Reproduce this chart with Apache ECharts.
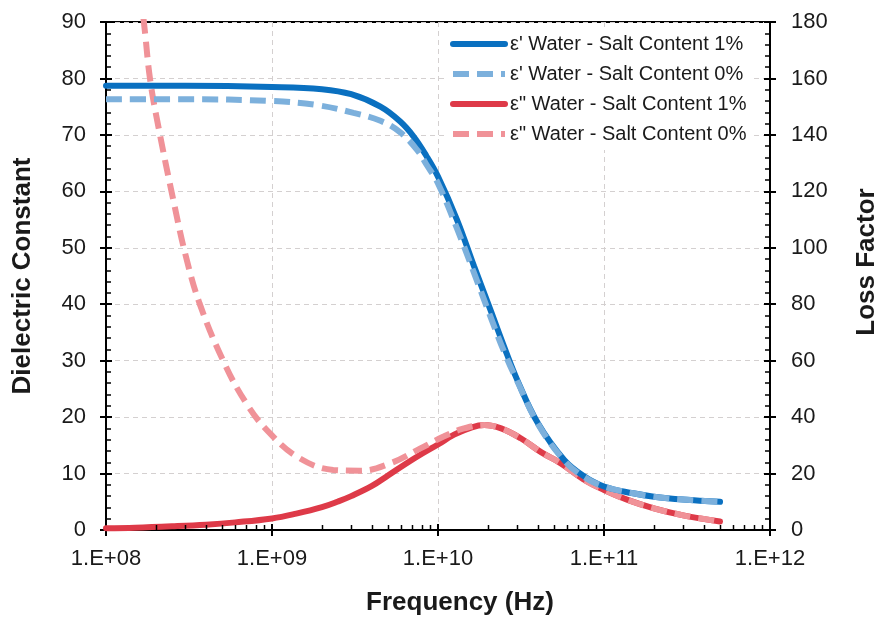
<!DOCTYPE html>
<html><head><meta charset="utf-8">
<script src="https://cdn.jsdelivr.net/npm/echarts@6/dist/echarts.min.js"></script>
<style>html,body{margin:0;padding:0;background:#fff}#c{width:877px;height:617px}</style>
</head><body><div id="c"></div>
<script>
// ---- data (frequency in Hz, value) ----
const seriesNames = [
  "ε' Water - Salt Content 1%",
  "ε' Water - Salt Content 0%",
  "ε\" Water - Salt Content 1%",
  "ε\" Water - Salt Content 0%"
];
// dielectric constant (left axis)
const epsRealSalt1 = [
  [1e8,78.7],[3e8,78.7],[1e9,78.5],[2e9,78.1],[3e9,77.2],[4.5e9,75.0],[5.9e9,72.4],[7.13e9,69.7],
  [8.5e9,66.3],[1e10,62.6],[1.3e10,55.0],[1.65e10,46.7],[2.07e10,39.0],[2.5e10,32.5],[3e10,26.6],
  [4e10,18.9],[5.76e10,12.4],[7.5e10,9.6],[1e11,7.7],[1.5e11,6.5],[2e11,5.9],[3e11,5.4],[5e11,5.0]
];
const epsRealSalt0 = [
  [1e8,76.3],[3e8,76.3],[1e9,76.0],[1.85e9,75.3],[3.1e9,73.9],[4.5e9,72.5],[5.9e9,70.5],[7.5e9,67.3],
  [8.5e9,64.8],[1e10,61.4],[1.31e10,53.2],[1.65e10,45.5],[2.07e10,37.8],[2.5e10,31.6],[3e10,26.4],
  [4e10,18.8],[5.76e10,12.3],[7.5e10,9.5],[1e11,7.7],[1.5e11,6.5],[2e11,5.9],[3e11,5.4],[5e11,5.0]
];
// loss factor (right axis)
const epsImagSalt1 = [
  [1e8,0.6],[1.5e8,0.8],[2.5e8,1.3],[4e8,1.9],[6e8,2.7],[1e9,4.1],[1.4e9,5.8],[2e9,8.1],[2.5e9,10.1],
  [3e9,12.0],[4e9,15.6],[5e9,19.3],[6.3e9,23.2],[8e9,27.0],[1e10,30.3],[1.25e10,33.8],[1.6e10,36.4],
  [1.9e10,37.2],[2.4e10,36.0],[3.15e10,32.5],[4.2e10,27.5],[5.5e10,23.6],[7.5e10,18.0],[1e11,14.2],
  [1.4e11,10.6],[2e11,7.7],[3e11,5.2],[5e11,3.0]
];
const epsImagSalt0 = [
  [1.62e8,190],[1.72e8,176],[1.84e8,160],[2.04e8,144.7],[2.58e8,115.2],[3.03e8,96.9],[3.66e8,80.3],
  [5.06e8,60.2],[7e8,44.9],[9.7e8,34.3],[1.47e9,25.4],[2.34e9,21.3],[3.4e9,21.0],[5.15e9,23.6],
  [7.83e9,28.9],[1.08e10,33.1],[1.4e10,35.8],[1.9e10,37.2],[2.4e10,36.0],[3.15e10,32.5],[4.2e10,27.5],
  [5.5e10,23.6],[7.5e10,18.0],[1e11,14.2],[1.4e11,10.6],[2e11,7.7],[3e11,5.2],[5e11,3.0]
];
const xTickLabels = {1e8:'1.E+08',1e9:'1.E+09',1e10:'1.E+10',1e11:'1.E+11',1e12:'1.E+12'};

// ---- styling ----
const FONT = 'Liberation Sans, Arial, sans-serif';
const TXT = '#1a1a1a';
const C_BLUE = '#0a70c0', C_BLUE_L = '#7cb0dc', C_RED = '#de3a48', C_RED_L = '#f09298';
const LW = 6;
const DASH = [16, 8];
const gridLine = {show:true, lineStyle:{color:'#d4d0d0', type:[5,4], width:1}};

const chart = echarts.init(document.getElementById('c'), null, {renderer:'canvas'});
const xBase = {type:'log', logBase:10, min:1e8, max:1e12, gridIndex:0};
const yL = {type:'value', min:0, max:90, interval:10};
const yR = {type:'value', min:0, max:180, interval:20};
const axisLine = {show:true, lineStyle:{color:'#000', width:2}};

const option = {
  backgroundColor:'#fff',
  animation:false,
  textStyle:{fontFamily:FONT},
  grid:{left:106, right:107, top:22, bottom:87, show:true, borderColor:'#000', borderWidth:2,
        containLabel:false, outerBoundsMode:'none'},
  legend:{
    data:seriesNames, orient:'vertical', left:445, top:30,
    itemWidth:52, itemHeight:20, itemGap:10, padding:[4,6,6,5],
    backgroundColor:'#fff',
    itemStyle:{opacity:0},
    lineStyle:{width:6},
    textStyle:{fontFamily:FONT, fontSize:20, color:TXT}
  },
  xAxis:[
    Object.assign({}, xBase, {
      position:'bottom',
      name:'Frequency (Hz)', nameLocation:'middle', nameGap:60,
      nameTextStyle:{fontFamily:FONT, fontSize:26, fontWeight:'bold', color:TXT, padding:[0,0,0,44]},
      axisLine:axisLine,
      axisTick:{show:true, inside:false, length:6, lineStyle:{color:'#000', width:2}},
      axisLabel:{fontFamily:FONT, fontSize:22, color:TXT, margin:18,
        formatter:v => xTickLabels[v] || ''},
      splitLine:gridLine
    }),
    Object.assign({}, xBase, {
      position:'bottom',
      axisLine:{show:false},
      axisTick:{show:true, inside:true, length:6, lineStyle:{color:'#000', width:2}},
      axisLabel:{show:false}, splitLine:{show:false}
    })
  ],
  yAxis:[
    Object.assign({}, yL, {
      position:'left',
      name:'Dielectric Constant', nameLocation:'middle', nameGap:70, nameRotate:90,
      nameTextStyle:{fontFamily:FONT, fontSize:26, fontWeight:'bold', color:TXT},
      axisLine:axisLine,
      axisTick:{show:true, inside:false, length:6, lineStyle:{color:'#000', width:2}},
      axisLabel:{fontFamily:FONT, fontSize:22, color:TXT, margin:20},
      splitLine:gridLine
    }),
    Object.assign({}, yR, {
      position:'right',
      name:'Loss Factor', nameLocation:'middle', nameGap:84, nameRotate:90,
      nameTextStyle:{fontFamily:FONT, fontSize:26, fontWeight:'bold', color:TXT, padding:[0,0,0,28]},
      axisLine:axisLine,
      axisTick:{show:true, inside:false, length:6, lineStyle:{color:'#000', width:2}},
      axisLabel:{fontFamily:FONT, fontSize:22, color:TXT, margin:21},
      splitLine:{show:false}
    }),
    Object.assign({}, yL, {
      position:'left', axisLine:{show:false},
      axisTick:{show:true, inside:true, length:6, lineStyle:{color:'#000', width:2}},
      minorTick:{show:true, splitNumber:5, length:5, lineStyle:{color:'#000', width:1.5}},
      axisLabel:{show:false}, splitLine:{show:false}
    }),
    Object.assign({}, yR, {
      position:'right', axisLine:{show:false},
      axisTick:{show:true, inside:true, length:6, lineStyle:{color:'#000', width:2}},
      minorTick:{show:true, splitNumber:5, length:5, lineStyle:{color:'#000', width:1.5}},
      axisLabel:{show:false}, splitLine:{show:false}
    })
  ],
  series:[
    {name:seriesNames[0], type:'line', data:epsRealSalt1, yAxisIndex:0, smooth:0.4, symbol:'none', z:4,
      lineStyle:{color:C_BLUE, width:LW, cap:'round'}, itemStyle:{color:C_BLUE}},
    {name:seriesNames[1], type:'line', data:epsRealSalt0, yAxisIndex:0, smooth:0.4, symbol:'none', z:5,
      lineStyle:{color:C_BLUE_L, width:LW, type:DASH}, itemStyle:{color:C_BLUE_L}},
    {name:seriesNames[2], type:'line', data:epsImagSalt1, yAxisIndex:1, smooth:0.4, symbol:'none', z:2,
      lineStyle:{color:C_RED, width:LW, cap:'round'}, itemStyle:{color:C_RED}},
    {name:seriesNames[3], type:'line', data:epsImagSalt0, yAxisIndex:1, smooth:0.4, symbol:'none', z:3,
      lineStyle:{color:C_RED_L, width:LW, type:DASH}, itemStyle:{color:C_RED_L}}
  ]
};
chart.setOption(option);

// minor ticks for the log x-axis, placed through the axis scale
const minorFreqs = [];
for (let d = 8; d <= 11; d++) for (let k = 2; k <= 9; k++) minorFreqs.push(k * Math.pow(10, d));
const y0 = chart.convertToPixel({yAxisIndex:0}, 0);
chart.setOption({graphic: minorFreqs.map(f => {
  const px = Math.round(chart.convertToPixel({xAxisIndex:0}, f)) + 0.5;
  return {type:'line', silent:true, z:10, shape:{x1:px, y1:y0, x2:px, y2:y0 - 5},
          style:{stroke:'#000', lineWidth:1.5}};
})});
</script></body></html>
